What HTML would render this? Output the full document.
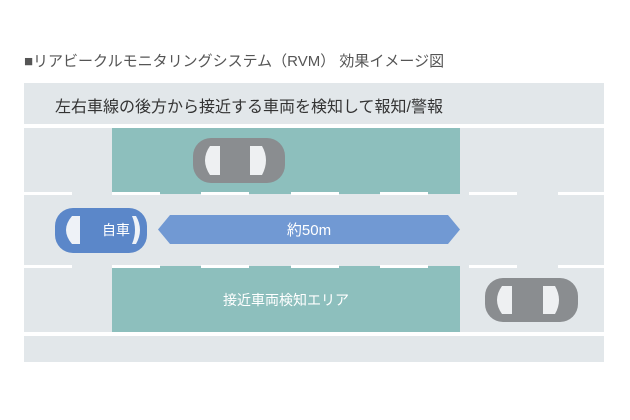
<!DOCTYPE html>
<html><head><meta charset="utf-8"><style>
body{margin:0;width:630px;height:420px;background:#fff;position:relative;overflow:hidden;font-family:"Liberation Sans","Noto Sans CJK JP",sans-serif}
.a{position:absolute}
.d{position:absolute;height:3px;background:#fff;width:48px}
</style></head><body>
<div class="a" style="left:24px;top:50px;font-size:15px;color:#555;white-space:nowrap">■リアビークルモニタリングシステム（RVM） 効果イメージ図</div>
<div class="a" style="left:24px;top:83px;width:580px;height:41px;background:#e2e7ea"></div>
<div class="a" style="left:55px;top:93px;font-size:16px;color:#333;white-space:nowrap">左右車線の後方から接近する車両を検知して報知/警報</div>
<div class="a" style="left:24px;top:128px;width:580px;height:204px;background:#e2e7ea"></div>
<div class="a" style="left:112px;top:128px;width:348px;height:66px;background:#8dbfbd"></div>
<div class="a" style="left:112px;top:266px;width:348px;height:66px;background:#8dbfbd"></div>
<div class="a" style="left:24px;top:336px;width:580px;height:26px;background:#e2e7ea"></div>
<div class="d" style="left:24px;top:192px"></div><div class="d" style="left:112px;top:192px"></div><div class="d" style="left:201px;top:192px"></div><div class="d" style="left:291px;top:192px"></div><div class="d" style="left:380px;top:192px"></div><div class="d" style="left:469px;top:192px"></div><div class="d" style="left:558px;top:192px;width:46px"></div>
<div class="d" style="left:24px;top:265px"></div><div class="d" style="left:112px;top:265px"></div><div class="d" style="left:201px;top:265px"></div><div class="d" style="left:291px;top:265px"></div><div class="d" style="left:380px;top:265px"></div><div class="d" style="left:469px;top:265px"></div><div class="d" style="left:558px;top:265px;width:46px"></div>
<svg class="a" style="left:0;top:0" width="630" height="420">
<polygon points="158,229.5 170,215 448,215 460,229.5 448,244 170,244" fill="#7199d3"/>
<text x="309" y="235" font-size="15" fill="#fff" text-anchor="middle" font-family="Liberation Sans,Noto Sans CJK JP,sans-serif">約50m</text>
<g>
<rect x="55" y="208" width="92" height="45" rx="18" fill="#5b87c9"/>
<path d="M72 216 Q60 230 72 244 L80 244 L80 216Z" fill="#eef2f7"/>
<path d="M136 216 Q144 230 136 244 L132 244 Q138 230 132 216Z" fill="#eef2f7"/>
<text x="116" y="235" font-size="14" fill="#fff" text-anchor="middle" font-family="Liberation Sans,Noto Sans CJK JP,sans-serif">自車</text>
</g>
<g>
<rect x="193" y="138" width="92" height="45" rx="18" fill="#8a8d90"/>
<path d="M210 146 Q200 160 210 175 L220 175 L220 146Z" fill="#eef0f2"/>
<path d="M250 146 L262 146 Q270 160 262 175 L250 175Z" fill="#eef0f2"/>
</g>
<g>
<rect x="485" y="278" width="93" height="44" rx="18" fill="#8a8d90"/>
<path d="M502 286 Q492 300 502 314 L512 314 L512 286Z" fill="#eef0f2"/>
<path d="M543 286 L555 286 Q563 300 555 314 L543 314Z" fill="#eef0f2"/>
</g>
<text x="286" y="305" font-size="14" fill="#fff" text-anchor="middle" font-family="Liberation Sans,Noto Sans CJK JP,sans-serif">接近車両検知エリア</text>
</svg>
</body></html>
